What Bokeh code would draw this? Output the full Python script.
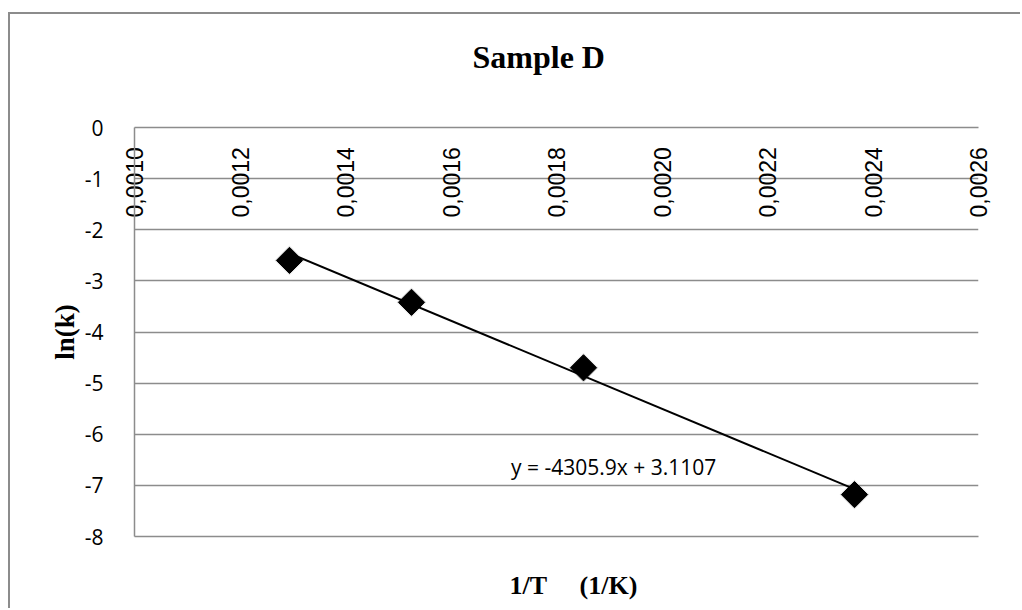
import numpy as np
from bokeh.plotting import figure
from bokeh.models import Label, FixedTicker, LinearAxis, CustomJSTickFormatter, Title
from bokeh.embed import file_html
from bokeh.resources import INLINE

# ---- data ----
inv_T = [0.0012938, 0.0015251, 0.0018512, 0.0023649]
ln_k = [-2.60, -3.42, -4.70, -7.18]
slope = -4305.9
intercept = 3.1107
x_ticks = [0.0010, 0.0012, 0.0014, 0.0016, 0.0018, 0.0020, 0.0022, 0.0024, 0.0026]
x_tick_labels = ["0,0010", "0,0012", "0,0014", "0,0016", "0,0018",
                 "0,0020", "0,0022", "0,0024", "0,0026"]
y_ticks = [0, -1, -2, -3, -4, -5, -6, -7, -8]
title_text = "Sample D"
x_title = "1/T\u00a0\u00a0\u00a0\u00a0\u00a0(1/K)"
y_title = "ln(k)"
eq_text = "y = -4305.9x + 3.1107"

GRID = "#8c8c8c"

p = figure(width=1012, height=596, x_range=(0.0010, 0.0026), y_range=(-8, 0),
           output_backend="svg", toolbar_location=None, x_axis_location="above",
           min_border_left=124, min_border_right=44, min_border_top=113,
           min_border_bottom=74)
p.styles = {"margin-left": "8px", "margin-top": "12px",
            "border-left": "2px solid #8c8c8c", "border-top": "2px solid #8c8c8c"}
p.outline_line_color = None
p.background_fill_color = "white"
p.border_fill_color = "white"

p.xgrid.visible = False
p.ygrid.ticker = FixedTicker(ticks=y_ticks)
p.ygrid.grid_line_color = GRID
p.ygrid.grid_line_width = 1.5

# top x axis: line at y = 0 with rotated labels hanging into the plot
xa = p.xaxis[0]
xa.ticker = FixedTicker(ticks=x_ticks)
xa.major_label_overrides = {t: s for t, s in zip(x_ticks, x_tick_labels)}
xa.major_label_orientation = "vertical"
xa.major_label_standoff = -96
xa.major_label_text_font = "Liberation Sans"
xa.major_label_text_font_size = "23px"
xa.major_label_text_color = "black"
xa.axis_line_color = GRID
xa.axis_line_width = 1.5
xa.major_tick_line_color = None
xa.minor_tick_line_color = None

blank = {t: "" for t in x_ticks}

# invisible spacer axis above, lifting the chart title
spacer_top = LinearAxis(ticker=FixedTicker(ticks=x_ticks), axis_line_color=None,
                        major_tick_line_color=None, minor_tick_line_color=None,
                        major_tick_out=53, major_tick_in=0, major_label_standoff=0,
                        major_label_overrides=blank,
                        major_label_text_font_size="0px")
p.add_layout(spacer_top, "above")

# title
p.title.text = title_text
p.title.align = "left"
p.title.offset = 338
p.title.standoff = 0
p.title.text_font = "Liberation Serif"
p.title.text_font_style = "bold"
p.title.text_font_size = "32px"
p.title.text_color = "black"

# bottom axis: line at y = -8, with invisible spacing below it
xb = LinearAxis(ticker=FixedTicker(ticks=x_ticks),
                axis_line_color=GRID, axis_line_width=1.5,
                major_tick_line_color=None, minor_tick_line_color=None,
                major_tick_out=32, major_tick_in=0,
                major_label_overrides=blank,
                major_label_text_font_size="0px", major_label_standoff=0)
p.add_layout(xb, "below")

# x axis title
p.add_layout(Title(text=x_title, align="left", offset=375, standoff=0,
                   text_font="Liberation Serif", text_font_style="bold",
                   text_font_size="26px", text_color="black"), "below")

ya = p.yaxis[0]
ya.ticker = FixedTicker(ticks=y_ticks)
ya.formatter = CustomJSTickFormatter(code="return tick.toFixed(0);")
ya.axis_line_color = GRID
ya.axis_line_width = 1.5
ya.major_tick_line_color = None
ya.minor_tick_line_color = None
ya.major_label_standoff = 25
ya.major_label_text_font = "Open Sans"
ya.major_label_text_font_size = "21px"
ya.major_label_text_color = "black"
ya.axis_label = y_title
ya.axis_label_text_font = "Liberation Serif"
ya.axis_label_text_font_style = "bold"
ya.axis_label_text_font_size = "27px"
ya.axis_label_text_color = "black"
ya.axis_label_standoff = 2

# trend line from the fitted equation
xs_fit = np.array([min(inv_T), max(inv_T)])
p.line(xs_fit, slope * xs_fit + intercept, line_color="black", line_width=2)

# diamond markers with soft shadow
p.scatter(inv_T, ln_k, marker="square", angle=np.pi / 4, size=21,
          fill_color="#000000", fill_alpha=0.12, line_color=None)
p.scatter(inv_T, ln_k, marker="square", angle=np.pi / 4, size=18.5,
          fill_color="black", line_color="black")

p.add_layout(Label(x=0.0017138, y=-6.634, text=eq_text, text_align="left",
                   text_baseline="alphabetic", text_font="Open Sans",
                   text_font_size="21px", text_color="black"))

open("out.html", "w").write(file_html(p, INLINE))
